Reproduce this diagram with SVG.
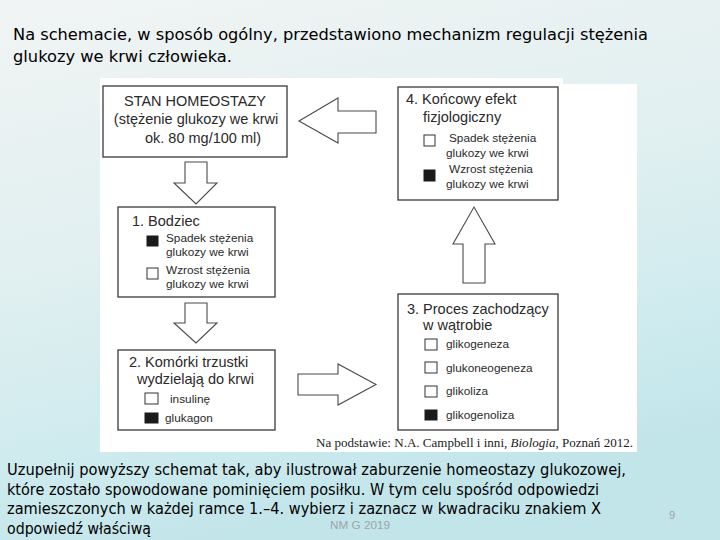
<svg xmlns="http://www.w3.org/2000/svg" width="720" height="540" viewBox="0 0 720 540">
<defs>
<linearGradient id="bg" x1="0" y1="0" x2="0.3" y2="1">
<stop offset="0" stop-color="#f1f4f4"/>
<stop offset="0.5" stop-color="#e0eff0"/>
<stop offset="0.85" stop-color="#cbeaee"/>
<stop offset="1" stop-color="#c2e5ea"/>
</linearGradient>
<style>
.t{font-family:"DejaVu Sans","Liberation Sans",sans-serif;font-size:16px;fill:#000}
.box{fill:#fff;stroke:#3a3a3a;stroke-width:1.3}
.arr{fill:#fff;stroke:#4a4a4a;stroke-width:1.1;stroke-linejoin:miter}
.h{font-family:"Liberation Sans",Arial,sans-serif;font-size:14.5px;fill:#2a2a2a}
.o{font-family:"Liberation Sans",Arial,sans-serif;font-size:11.8px;fill:#2a2a2a}
.ws{fill:#fff;stroke:#333;stroke-width:1}
.bs{fill:#1a1a1a;stroke:#1a1a1a;stroke-width:1}
.g{font-family:"Liberation Sans",Arial,sans-serif;font-size:11px;fill:#9aa6a8}
</style>
</defs>
<rect width="720" height="540" fill="url(#bg)"/>
<text class="t" x="13" y="40" textLength="635" lengthAdjust="spacingAndGlyphs">Na schemacie, w sposób ogólny, przedstawiono mechanizm regulacji stężenia</text>
<text class="t" x="13" y="62" textLength="219" lengthAdjust="spacingAndGlyphs">glukozy we krwi człowieka.</text>
<path d="M100 78 H563 V84 H637 V452 H100 Z" fill="#fff"/>
<g id="connectors">
<path class="arr" d="M376 111 H338 V98 L299 121 L338 143 V133 H376 Z"/>
<path class="arr" d="M185 162 H207 V183 H217 L196 204 L174 183 H185 Z"/>
<path class="arr" d="M185 303 H207 V323 H217 L196 343 L174 323 H185 Z"/>
<path class="arr" d="M298 374 H338 V364 L376 384.5 L338 405 V395 H298 Z"/>
<path class="arr" d="M463 283 V244 H453 L474 207 L495 244 H485 V283 Z"/>
</g>
<g id="homeostaza">
<rect class="box" x="103" y="86" width="184" height="71"/>
<text class="h" x="195" y="106" text-anchor="middle" font-size="13.8">STAN HOMEOSTAZY</text>
<text class="h" x="196" y="124" text-anchor="middle" font-size="13.8">(stężenie glukozy we krwi</text>
<text class="h" x="203" y="143" text-anchor="middle" font-size="13.8">ok. 80 mg/100 ml)</text>
</g>
<g id="bodziec">
<rect class="box" x="118" y="207" width="157" height="90"/>
<text class="h" x="132" y="226">1. Bodziec</text>
<rect class="bs" x="147" y="236" width="11" height="10"/>
<text class="o" x="166" y="242">Spadek stężenia</text>
<text class="o" x="166" y="256">glukozy we krwi</text>
<rect class="ws" x="147" y="268" width="11" height="11"/>
<text class="o" x="166" y="274">Wzrost stężenia</text>
<text class="o" x="166" y="288">glukozy we krwi</text>
</g>
<g id="komorki">
<rect class="box" x="118" y="350" width="157" height="80"/>
<text class="h" x="129" y="367">2. Komórki trzustki</text>
<text class="h" x="137" y="384">wydzielają do krwi</text>
<rect class="ws" x="145" y="393" width="13" height="11"/>
<text class="o" x="170" y="403">insulinę</text>
<rect class="bs" x="145" y="413" width="13" height="10"/>
<text class="o" x="165" y="422">glukagon</text>
</g>
<g id="proces">
<rect class="box" x="398" y="294" width="160" height="136"/>
<text class="h" x="407" y="314">3. Proces zachodzący</text>
<text class="h" x="423" y="330">w wątrobie</text>
<rect class="ws" x="425" y="339" width="12" height="11"/>
<text class="o" x="446" y="348">glikogeneza</text>
<rect class="ws" x="425" y="362" width="12" height="11"/>
<text class="o" x="446" y="372">glukoneogeneza</text>
<rect class="ws" x="425" y="386" width="12" height="11"/>
<text class="o" x="446" y="395">glikoliza</text>
<rect class="bs" x="425" y="410" width="12" height="10"/>
<text class="o" x="446" y="419">glikogenoliza</text>
</g>
<g id="efekt">
<rect class="box" x="398" y="87" width="160" height="113"/>
<text class="h" x="406" y="104" font-size="15">4. Końcowy efekt</text>
<text class="h" x="423" y="122" font-size="15">fizjologiczny</text>
<rect class="ws" x="424" y="135" width="11" height="11"/>
<text class="o" x="449" y="142">Spadek stężenia</text>
<text class="o" x="446" y="157">glukozy we krwi</text>
<rect class="bs" x="424" y="170" width="11" height="11"/>
<text class="o" x="449" y="173">Wzrost stężenia</text>
<text class="o" x="446" y="188">glukozy we krwi</text>
</g>
<text x="316" y="447" textLength="317" lengthAdjust="spacingAndGlyphs" font-family="Liberation Serif,serif" font-size="12" fill="#222">Na podstawie: N.A. Campbell i inni, <tspan font-style="italic">Biologia</tspan>, Poznań 2012.</text>
<text class="t" x="7" y="475" textLength="619" lengthAdjust="spacingAndGlyphs">Uzupełnij powyższy schemat tak, aby ilustrował zaburzenie homeostazy glukozowej,</text>
<text class="t" x="7" y="495" textLength="592" lengthAdjust="spacingAndGlyphs">które zostało spowodowane pominięciem posiłku. W tym celu spośród odpowiedzi</text>
<text class="t" x="7" y="514" textLength="594" lengthAdjust="spacingAndGlyphs">zamieszczonych w każdej ramce 1.–4. wybierz i zaznacz w kwadraciku znakiem X</text>
<text class="t" x="7" y="534" textLength="144" lengthAdjust="spacingAndGlyphs">odpowiedź właściwą</text>
<text class="g" x="330" y="529" font-size="10" textLength="60" lengthAdjust="spacingAndGlyphs">NM G 2019</text>
<text class="g" x="669" y="519">9</text>
</svg>
